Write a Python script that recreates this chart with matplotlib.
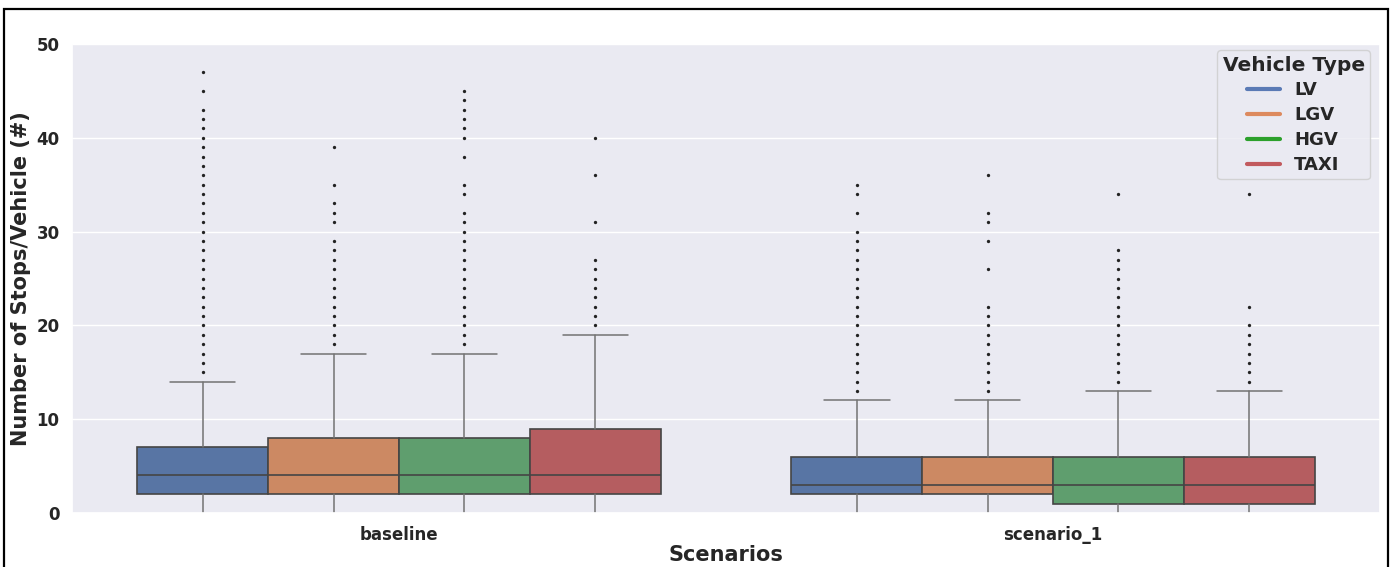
import matplotlib
matplotlib.use("Agg")
import matplotlib.pyplot as plt
from matplotlib.lines import Line2D
from matplotlib.patches import Rectangle
import seaborn as sns

scenarios = ["baseline", "scenario_1"]
vehicle_types = ["LV", "LGV", "HGV", "TAXI"]

# box statistics per vehicle type (LV, LGV, HGV, TAXI)
baseline_q1 = [2, 2, 2, 2]
baseline_med = [4, 4, 4, 4]
baseline_q3 = [7, 8, 8, 9]
baseline_whislo = [0, 0, 0, 0]
baseline_whishi = [14, 17, 17, 19]
baseline_fliers = [
    [15, 16, 17, 18, 19, 20, 21, 22, 23, 24, 25, 26, 27, 28, 29, 30, 31, 32,
     33, 34, 35, 36, 37, 38, 39, 40, 41, 42, 43, 45, 47],
    [18, 19, 20, 21, 22, 23, 24, 25, 26, 27, 28, 29, 31, 32, 33, 35, 39],
    [18, 19, 20, 21, 22, 23, 24, 25, 26, 27, 28, 29, 30, 31, 32, 34, 35, 38,
     40, 41, 42, 43, 44, 45],
    [20, 21, 22, 23, 24, 25, 26, 27, 31, 36, 40],
]

scenario_1_q1 = [2, 2, 1, 1]
scenario_1_med = [3, 3, 3, 3]
scenario_1_q3 = [6, 6, 6, 6]
scenario_1_whislo = [0, 0, 0, 0]
scenario_1_whishi = [12, 12, 13, 13]
scenario_1_fliers = [
    [13, 14, 15, 16, 17, 18, 19, 20, 21, 22, 23, 24, 25, 26, 27, 28, 29, 30,
     32, 34, 35],
    [13, 14, 15, 16, 17, 18, 19, 20, 21, 22, 26, 29, 31, 32, 36],
    [14, 15, 16, 17, 18, 19, 20, 21, 22, 23, 24, 25, 26, 27, 28, 34],
    [14, 15, 16, 17, 18, 19, 20, 22, 34],
]

box_colors = ["#5875a4", "#cc8963", "#5f9e6e", "#b55d60"]
legend_colors = ["#5a7ab5", "#dd8a5e", "#2ca02c", "#c25a5e"]

sns.set_theme(style="darkgrid")
plt.rcParams["font.family"] = ["DejaVu Sans"]
plt.rcParams["font.weight"] = "bold"

fig = plt.figure(figsize=(13.95, 5.67), dpi=100)
ax = fig.add_axes([72 / 1395, 1 - 513 / 567, 1308 / 1395, 469 / 567])

groups = [
    (baseline_q1, baseline_med, baseline_q3, baseline_whislo, baseline_whishi, baseline_fliers),
    (scenario_1_q1, scenario_1_med, scenario_1_q3, scenario_1_whislo, scenario_1_whishi, scenario_1_fliers),
]
width = 0.8 / len(vehicle_types)
for gi, (q1, med, q3, lo, hi, fl) in enumerate(groups):
    for vi in range(len(vehicle_types)):
        pos = gi - 0.4 + width * (vi + 0.5)
        stats = [dict(q1=q1[vi], med=med[vi], q3=q3[vi], whislo=lo[vi],
                      whishi=hi[vi], fliers=fl[vi])]
        parts = ax.bxp(stats, positions=[pos], widths=width, capwidths=width / 2,
                       patch_artist=True, manage_ticks=False,
                       boxprops=dict(facecolor=box_colors[vi], edgecolor="#454545", linewidth=1.2),
                       medianprops=dict(color="#454545", linewidth=1.2),
                       whiskerprops=dict(color="#737373", linewidth=1.1),
                       capprops=dict(color="#737373", linewidth=1.1),
                       flierprops=dict(marker="o", markersize=2.4, markerfacecolor="#222222",
                                       markeredgewidth=0, linestyle="none"))
        # lower cap sits on the axis floor, hide it
        parts["caps"][0].set_visible(False)

ax.set_xlim(-0.5, 1.5)
ax.set_ylim(0, 50)
ax.set_xticks(range(len(scenarios)))
ax.set_xticklabels(scenarios)
ax.set_yticks([0, 10, 20, 30, 40, 50])
ax.xaxis.grid(False)
ax.tick_params(axis="both", labelsize=12, pad=3)
for lbl in ax.get_xticklabels() + ax.get_yticklabels():
    lbl.set_fontweight("bold")
ax.set_xlabel("Scenarios", fontsize=15, fontweight="bold", labelpad=1)
ax.set_ylabel("Number of Stops/Vehicle (#)", fontsize=15, fontweight="bold", labelpad=4)

handles = [Line2D([0], [0], color=c, linewidth=3) for c in legend_colors]
leg = ax.legend(handles, vehicle_types, title="Vehicle Type", loc="upper right",
                bbox_to_anchor=(0.9924, 0.987), borderaxespad=0,
                prop=dict(size=13, weight="bold"),
                title_fontproperties=dict(size=14.5, weight="bold"),
                handlelength=1.8, labelspacing=0.38, borderpad=0.3)

# thin black frame drawn around the whole figure
fig.add_artist(Rectangle((4 / 1395, -0.05), 1384 / 1395, 1 - 9 / 567 + 0.05,
                         transform=fig.transFigure, fill=False,
                         edgecolor="black", linewidth=1.6, clip_on=False))

fig.savefig("out.png", dpi=100)
